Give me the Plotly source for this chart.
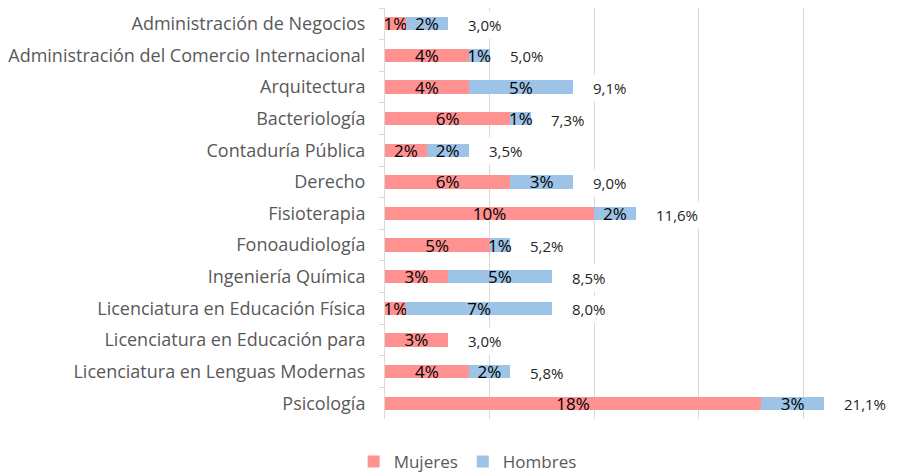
import plotly.graph_objects as go

categories = [
    "Administración de Negocios",
    "Administración del Comercio Internacional",
    "Arquitectura",
    "Bacteriología",
    "Contaduría Pública",
    "Derecho",
    "Fisioterapia",
    "Fonoaudiología",
    "Ingeniería Química",
    "Licenciatura en Educación Física",
    "Licenciatura en Educación para",
    "Licenciatura en Lenguas Modernas",
    "Psicología",
]
mujeres = [1, 4, 4, 6, 2, 6, 10, 5, 3, 1, 3, 4, 18]
hombres = [2, 1, 5, 1, 2, 3, 2, 1, 5, 7, 0, 2, 3]
total_labels = ["3,0%", "5,0%", "9,1%", "7,3%", "3,5%", "9,0%", "11,6%",
                "5,2%", "8,5%", "8,0%", "3,0%", "5,8%", "21,1%"]

FONT = "'Open Sans', sans-serif"

fig = go.Figure()
fig.add_trace(go.Bar(
    y=categories, x=mujeres, orientation="h", name="Mujeres",
    marker=dict(color="#FF9191", line=dict(width=0)),
    textposition="inside", insidetextanchor="middle", constraintext="none",
    textfont=dict(color="#000000", size=17, family=FONT),
    texttemplate=[f"{v}%" if v > 0 else "" for v in mujeres],
))
fig.add_trace(go.Bar(
    y=categories, x=hombres, orientation="h", name="Hombres",
    marker=dict(color="#9DC3E6", line=dict(width=0)),
    textposition="inside", insidetextanchor="middle", constraintext="none",
    textfont=dict(color="#000000", size=17, family=FONT),
    texttemplate=[f"{v}%" if v > 0 else "" for v in hombres],
))

for c, m, h, t in zip(categories, mujeres, hombres, total_labels):
    fig.add_annotation(
        x=m + h, y=c, text=t, showarrow=False, xanchor="left",
        xshift=16, yshift=-1, bgcolor="#FFFFFF", borderpad=3,
        font=dict(size=15, color="#262626", family=FONT),
    )

fig.update_layout(
    width=896, height=466,
    margin=dict(l=377, r=4, t=0, b=55, autoexpand=False),
    barmode="stack", bargap=0.58,
    plot_bgcolor="#FFFFFF", paper_bgcolor="#FFFFFF",
    legend=dict(orientation="h", xref="container", x=0.513, xanchor="center",
                yref="container", y=0.026, yanchor="middle",
                font=dict(size=17, color="#595959", family=FONT),
                itemwidth=30, traceorder="normal"),
    font=dict(family=FONT),
)
fig.update_xaxes(range=[0, 24.64], showgrid=True, gridcolor="#D9D9D9",
                 gridwidth=1, dtick=5, showticklabels=False, zeroline=False,
                 showline=False, automargin=False)
fig.update_yaxes(autorange="reversed", showline=True, linecolor="#D9D9D9",
                 ticks="outside", ticklen=5, tickcolor="#D9D9D9",
                 tickson="boundaries", ticklabelstandoff=15, automargin=False,
                 tickfont=dict(size=18, color="#595959", family=FONT))

fig.write_html("out.html")
